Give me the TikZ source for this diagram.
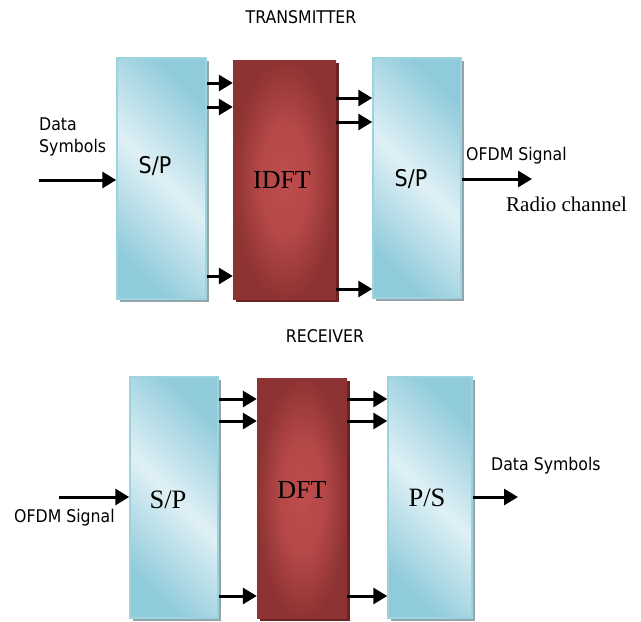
\documentclass[tikz,border=0pt]{standalone}
\usepackage{fontspec}
\setmainfont{Liberation Serif}
\newfontfamily\tsans[FakeStretch=0.9]{DejaVu Sans}
\usetikzlibrary{arrows.meta,shadows}
\definecolor{bluedark}{HTML}{90CBDB}
\definecolor{bluelight}{HTML}{DFF0F5}
\definecolor{blueedge}{HTML}{9DD2DF}
\definecolor{blueshadow}{HTML}{93A5AA}
\definecolor{redin}{HTML}{BF4D4D}
\definecolor{redout}{HTML}{8E3333}
\definecolor{redshadow}{HTML}{6B2222}
\pgfdeclareradialshading{redsh}{\pgfpoint{0bp}{0bp}}{color(0bp)=(redin); color(12bp)=(redin!80!redout); color(25bp)=(redout); color(50bp)=(redout)}
\tikzset{
  bluebox/.style={draw=blueedge, line width=1.5pt, left color=bluedark, right color=bluedark,
    middle color=bluelight, shading angle=-45, inner sep=0pt,
    drop shadow={shadow xshift=3pt, shadow yshift=-3pt, fill=blueshadow, opacity=1}},
  redbox/.style={shading=redsh, inner sep=0pt,
    drop shadow={shadow xshift=3pt, shadow yshift=-3pt, fill=redshadow, opacity=1}},
  arr/.style={line width=3pt, -{Triangle[length=14pt,width=16pt]}},
  lab/.style={font=\tsans\fontsize{17.5}{22}\selectfont, inner sep=0pt},
  bigsans/.style={font=\tsans\fontsize{23}{26}\selectfont, inner sep=0pt},
  serifbig/.style={font=\fontsize{26.5}{30}\selectfont, inner sep=0pt},
}
\begin{document}
\begin{tikzpicture}[x=1pt,y=-1pt]
\useasboundingbox (0,0) rectangle (641,622);
% ---------- Transmitter ----------
\node[lab] (tx) at (301,17) {TRANSMITTER};
\node[bluebox, minimum width=89pt, minimum height=241pt] (sp1) at (161.5,178.5) {};
\node[redbox, minimum width=103pt, minimum height=239pt] (idft) at (284.5,179.5) {};
\node[bluebox, minimum width=88pt, minimum height=240pt] (sp2) at (417,178) {};
\node[bigsans] (tsp1) at (155,166) {S/P};
\node[serifbig, font=\fontsize{26}{30}\selectfont] (tidft) at (282,180) {IDFT};
\node[bigsans] (tsp2) at (411,179) {S/P};
\node[lab, align=left, anchor=west] (ds1) at (39,137) {Data\\Symbols};
\coordinate (in1) at (39,180);
\draw[arr] (in1) -- (sp1.west |- in1);
\foreach \yy in {83,107,276} \draw[arr] (sp1.east |- 0,\yy) -- (idft.west |- 0,\yy);
\foreach \yy in {98,122,289} \draw[arr] (idft.east |- 0,\yy) -- (sp2.west |- 0,\yy);
\coordinate (out1) at (532,179);
\draw[arr] (sp2.east |- out1) -- (out1);
\node[lab, anchor=west] (ofdm1) at (466,156) {OFDM Signal};
\node[font=\fontsize{21}{24}\selectfont, inner sep=0pt, anchor=west] (radio) at (506,204) {Radio channel};
% ---------- Receiver ----------
\node[lab] (rx) at (325,336) {RECEIVER};
\node[bluebox, minimum width=88pt, minimum height=241pt] (sp3) at (174,497.5) {};
\node[redbox, minimum width=90pt, minimum height=240pt] (dft) at (302,498) {};
\node[bluebox, minimum width=84pt, minimum height=241pt] (ps) at (430,497.5) {};
\node[serifbig] (tsp3) at (168,500) {S/P};
\node[serifbig, font=\fontsize{26}{30}\selectfont] (tdft) at (302,490) {DFT};
\node[serifbig] (tps) at (427,498) {P/S};
\coordinate (in2) at (59,497);
\draw[arr] (in2) -- (sp3.west |- in2);
\node[lab, anchor=west] (ofdm2) at (14,518) {OFDM Signal};
\foreach \yy in {399,421,596} \draw[arr] (sp3.east |- 0,\yy) -- (dft.west |- 0,\yy);
\foreach \yy in {399,421,596} \draw[arr] (dft.east |- 0,\yy) -- (ps.west |- 0,\yy);
\coordinate (out2) at (518,497);
\draw[arr] (ps.east |- out2) -- (out2);
\node[lab, anchor=west] (ds2) at (491,466) {Data Symbols};
\end{tikzpicture}
\end{document}
